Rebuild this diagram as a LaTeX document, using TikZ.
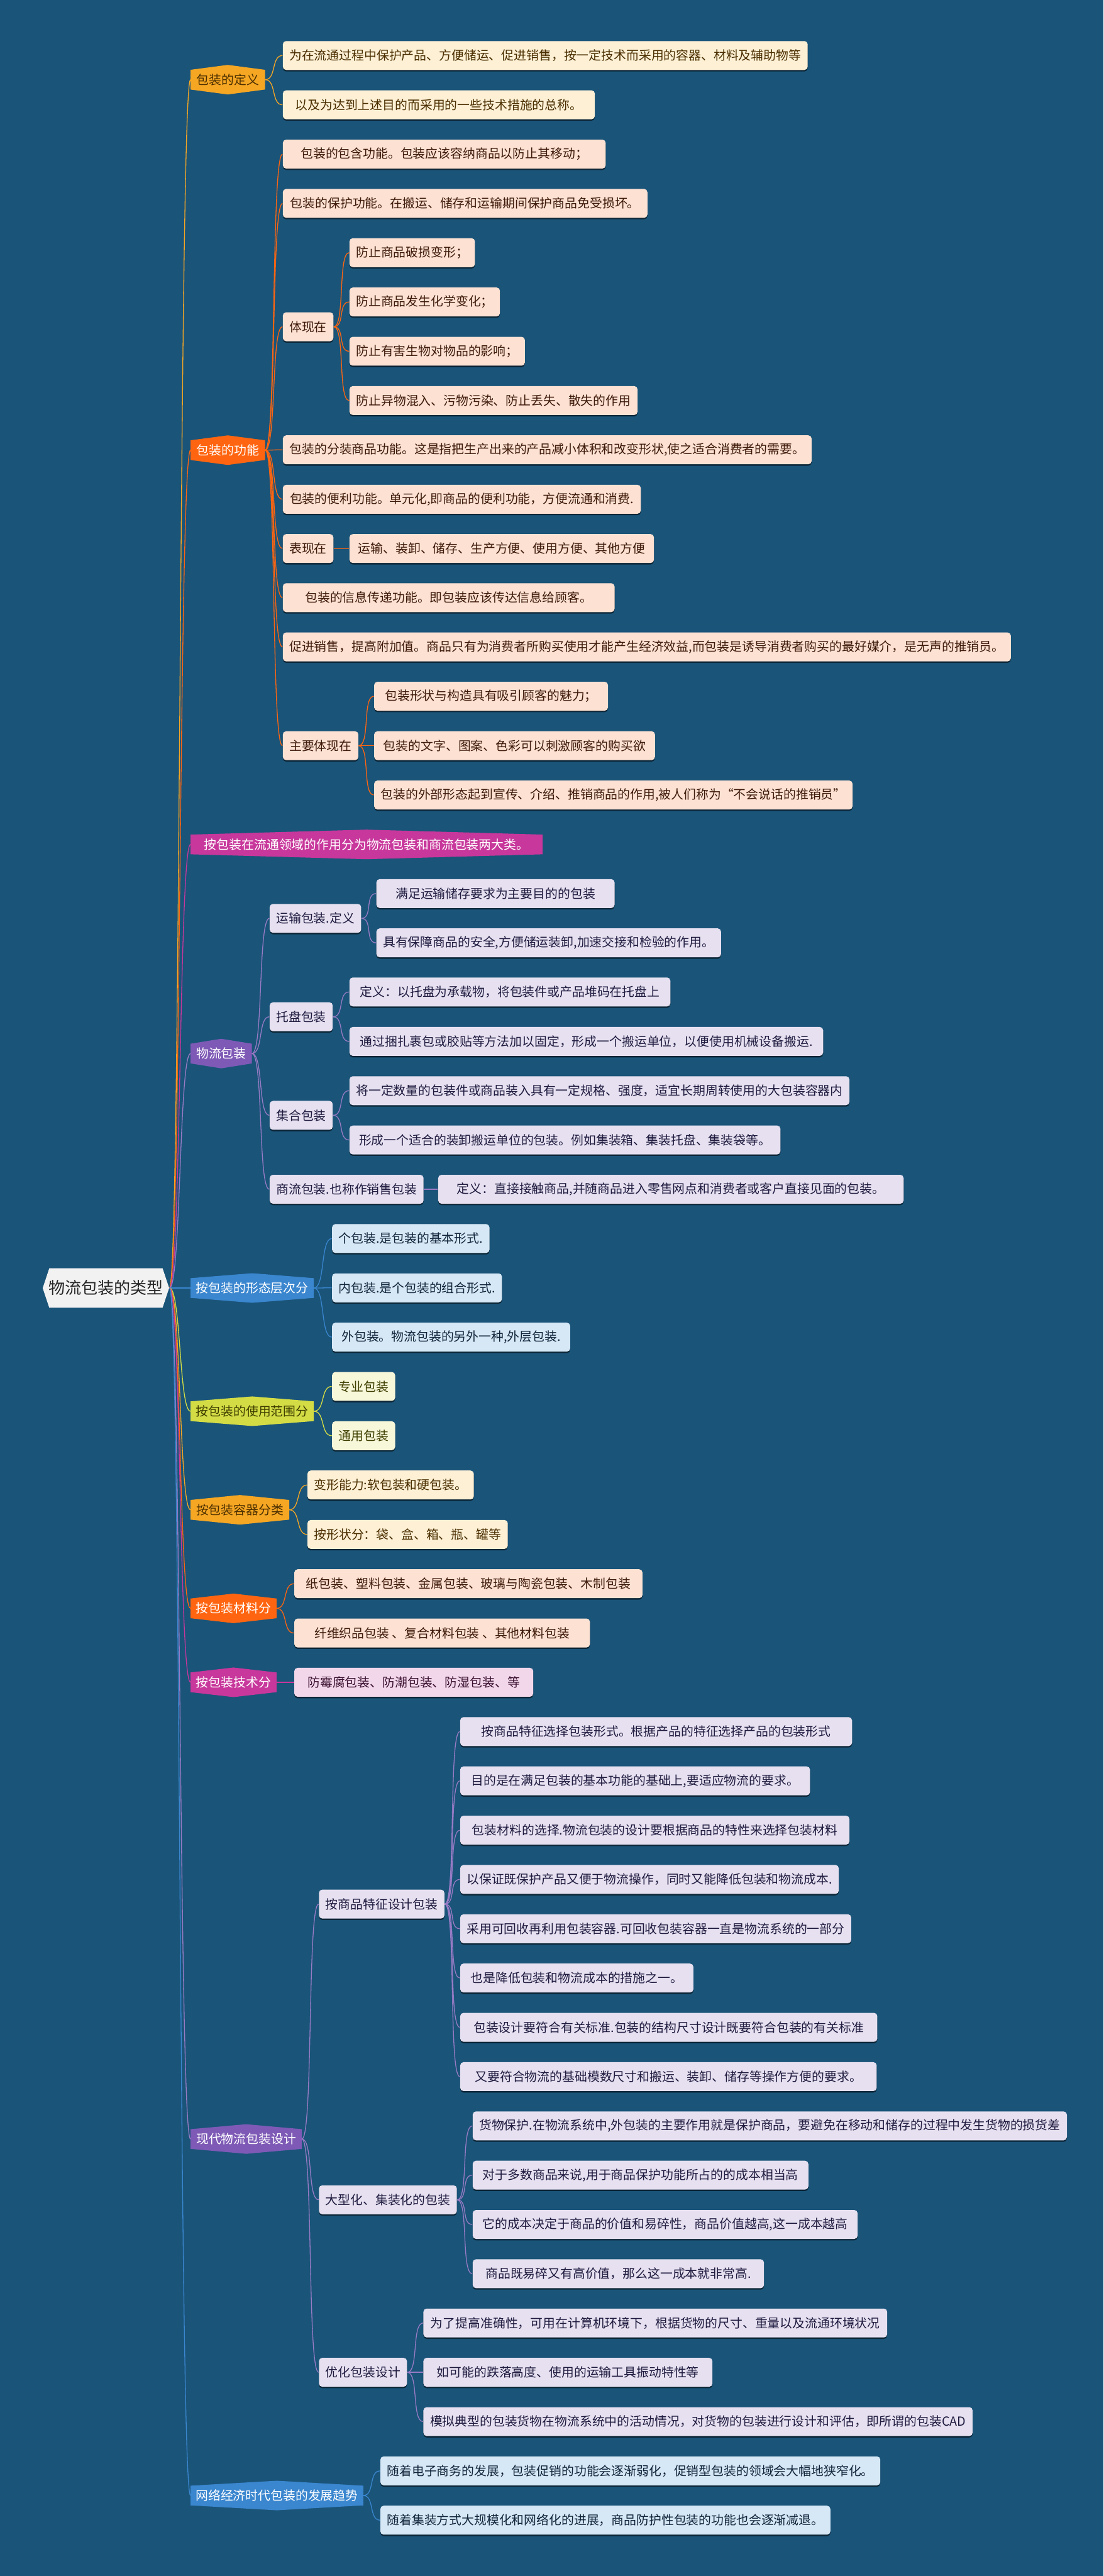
\documentclass[tikz,border=0pt]{standalone}
\usepackage{fontspec}
\newfontfamily\cjkf{Noto Sans CJK SC}
\usetikzlibrary{calc,backgrounds,shadows}
\definecolor{bg}{HTML}{1A5479}
\definecolor{cYO}{HTML}{F5A623}
\definecolor{cOR}{HTML}{FF6510}
\definecolor{cMG}{HTML}{C8379B}
\definecolor{cPU}{HTML}{7E5AB6}
\definecolor{cBL}{HTML}{3A86CF}
\definecolor{cYG}{HTML}{D3DC45}
\definecolor{fYO}{HTML}{FDF0D5}
\definecolor{fOR}{HTML}{FDE1D2}
\definecolor{fMG}{HTML}{F2D7EA}
\definecolor{fPU}{HTML}{E6E0F0}
\definecolor{fBL}{HTML}{D6E8F6}
\definecolor{fYG}{HTML}{F7F7DA}
\definecolor{tYO}{HTML}{4A2E00}
\definecolor{tOR}{HTML}{3E1A0A}
\definecolor{tMG}{HTML}{3A1030}
\definecolor{tPU}{HTML}{1F1B3F}
\definecolor{tBL}{HTML}{10243A}
\definecolor{tYG}{HTML}{3E3E00}
\definecolor{rootc}{HTML}{F2F2F2}
\tikzset{
  box/.style={rounded corners=2pt, inner xsep=4pt, inner ysep=0pt, minimum height=17.6pt,
    anchor=west, font=\cjkf\fontsize{7.6}{9}\selectfont,
    drop shadow={shadow xshift=0pt, shadow yshift=-0.9pt, opacity=0.55, fill=black}},
  bYO/.style={box, fill=fYO, text=tYO},
  bOR/.style={box, fill=fOR, text=tOR},
  bMG/.style={box, fill=fMG, text=tMG},
  bPU/.style={box, fill=fPU, text=tPU},
  bBL/.style={box, fill=fBL, text=tBL},
  bYG/.style={box, fill=fYG, text=tYG},
  hexn/.style={inner xsep=3pt, inner ysep=0pt, minimum height=17.6pt, anchor=west,
    font=\cjkf\fontsize{7.6}{9}\selectfont},
  lYO/.style={draw=cYO, line width=0.5pt},
  lOR/.style={draw=cOR, line width=0.5pt},
  lMG/.style={draw=cMG, line width=0.5pt},
  lPU/.style={draw=cPU!80!white, line width=0.5pt},
  lBL/.style={draw=cBL, line width=0.5pt},
  lYG/.style={draw=cYG, line width=0.5pt},
}
\newcommand\bx[6]{\node[#1, minimum width=#5pt] (#2) at (#3,#4) {#6};}
\newcommand\hx[7]{%
  \node[hexn, text=#6, minimum width=#4pt] (#1) at (#2,#3) {#7};
  \begin{scope}[on background layer]
    \fill[#5] ($(#1.north west)+(0,3)$) -- (#1.north) -- ($(#1.north east)+(0,3)$) --
      ($(#1.south east)+(0,-3)$) -- (#1.south) -- ($(#1.south west)+(0,-3)$) -- cycle;
  \end{scope}}
\newcommand\cn[3]{\draw[#1] (#2.east) .. controls +(7,0) and +(-7,0) .. (#3.west);}
\begin{document}
\begin{tikzpicture}[x=1pt,y=-1pt]
\useasboundingbox (0,0) rectangle (672,1568);
\begin{scope}[on background layer]
  \fill[bg] (0,0) rectangle (672,1568);
  \fill[rootc] (26,784) -- (30,772) -- (99,772) -- (103,784) -- (99,796) -- (30,796) -- cycle;
\end{scope}
\node[font=\cjkf\fontsize{10}{12}\selectfont, text=black!85, minimum width=77pt, minimum height=24pt, inner sep=0pt] (root) at (64.5,784) {物流包装的类型};

% level 1
\hx{A}{116}{48.5}{45}{cYO}{tYO}{包装的定义}
\hx{B}{116}{274}{45}{cOR}{white}{包装的功能}
\hx{C}{116}{514}{214}{cMG}{white}{按包装在流通领域的作用分为物流包装和商流包装两大类。}
\hx{D}{116}{641.3}{37}{cPU}{white}{物流包装}
\hx{E}{116}{784}{74.7}{cBL}{white}{按包装的形态层次分}
\hx{F}{116}{859}{74.7}{cYG}{tYG}{按包装的使用范围分}
\hx{G}{116}{919}{59.7}{cYO}{tYO}{按包装容器分类}
\hx{H}{116}{979}{52}{cOR}{white}{按包装材料分}
\hx{I}{116}{1024}{52}{cMG}{white}{按包装技术分}
\hx{J}{116}{1302}{67.4}{cPU}{white}{现代物流包装设计}
\hx{K}{116}{1519}{104.7}{cBL}{white}{网络经济时代包装的发展趋势}

% A
\bx{bYO}{A1}{172}{33.8}{318}{为在流通过程中保护产品、方便储运、促进销售，按一定技术而采用的容器、材料及辅助物等}
\bx{bYO}{A2}{172}{63.8}{190}{以及为达到上述目的而采用的一些技术措施的总称。}
% B
\bx{bOR}{B1}{172}{93.8}{196.6}{包装的包含功能。包装应该容纳商品以防止其移动；}
\bx{bOR}{B2}{172}{123.8}{222}{包装的保护功能。在搬运、储存和运输期间保护商品免受损坏。}
\bx{bOR}{B3}{172}{198.9}{29}{体现在}
\bx{bOR}{B31}{212.6}{153.8}{74.4}{防止商品破损变形；}
\bx{bOR}{B32}{212.6}{183.8}{89.4}{防止商品发生化学变化；}
\bx{bOR}{B33}{212.6}{213.8}{104.4}{防止有害生物对物品的影响；}
\bx{bOR}{B34}{212.6}{243.8}{175.4}{防止异物混入、污物污染、防止丢失、散失的作用}
\bx{bOR}{B4}{172}{273.8}{322}{包装的分装商品功能。这是指把生产出来的产品减小体积和改变形状,使之适合消费者的需要。}
\bx{bOR}{B5}{172}{303.9}{218}{包装的便利功能。单元化,即商品的便利功能，方便流通和消费.}
\bx{bOR}{B6}{172}{333.9}{29}{表现在}
\bx{bOR}{B61}{212.6}{333.9}{185.4}{运输、装卸、储存、生产方便、使用方便、其他方便}
\bx{bOR}{B7}{172}{363.8}{202}{包装的信息传递功能。即包装应该传达信息给顾客。}
\bx{bOR}{B8}{172}{393.8}{443}{促进销售，提高附加值。商品只有为消费者所购买使用才能产生经济效益,而包装是诱导消费者购买的最好媒介，是无声的推销员。}
\bx{bOR}{B9}{172}{453.9}{44}{主要体现在}
\bx{bOR}{B91}{227.6}{423.8}{142.4}{包装形状与构造具有吸引顾客的魅力；}
\bx{bOR}{B92}{227.6}{453.9}{171}{包装的文字、图案、色彩可以刺激顾客的购买欲}
\bx{bOR}{B93}{227.6}{483.9}{286}{包装的外部形态起到宣传、介绍、推销商品的作用,被人们称为“不会说话的推销员”}
% D
\bx{bPU}{D1}{164}{559}{54.6}{运输包装.定义}
\bx{bPU}{D11}{229}{543.9}{145}{满足运输储存要求为主要目的的包装}
\bx{bPU}{D12}{229}{573.9}{208}{具有保障商品的安全,方便储运装卸,加速交接和检验的作用。}
\bx{bPU}{D2}{164}{618.9}{37.4}{托盘包装}
\bx{bPU}{D21}{212.6}{603.8}{195.4}{定义：以托盘为承载物，将包装件或产品堆码在托盘上}
\bx{bPU}{D22}{212.6}{633.9}{288.4}{通过捆扎裹包或胶贴等方法加以固定，形成一个搬运单位，以便使用机械设备搬运.}
\bx{bPU}{D3}{164}{678.9}{37.4}{集合包装}
\bx{bPU}{D31}{212.6}{663.9}{301}{将一定数量的包装件或商品装入具有一定规格、强度，适宜长期周转使用的大包装容器内}
\bx{bPU}{D32}{212.6}{693.9}{262.4}{形成一个适合的装卸搬运单位的包装。例如集装箱、集装托盘、集装袋等。}
\bx{bPU}{D4}{164}{723.9}{92}{商流包装.也称作销售包装}
\bx{bPU}{D41}{266.6}{723.9}{283.4}{定义：直接接触商品,并随商品进入零售网点和消费者或客户直接见面的包装。}
% E
\bx{bBL}{E1}{202}{753.9}{93}{个包装.是包装的基本形式.}
\bx{bBL}{E2}{202}{783.9}{100}{内包装.是个包装的组合形式.}
\bx{bBL}{E3}{202}{813.9}{145}{外包装。物流包装的另外一种,外层包装.}
% F
\bx{bYG}{F1}{202}{843.9}{36.7}{专业包装}
\bx{bYG}{F2}{202}{873.9}{36.7}{通用包装}
% G
\bx{bYO}{G1}{187}{903.9}{98}{变形能力:软包装和硬包装。}
\bx{bYO}{G2}{187}{934}{119}{按形状分：袋、盒、箱、瓶、罐等}
% H
\bx{bOR}{H1}{179}{964}{212}{纸包装、塑料包装、金属包装、玻璃与陶瓷包装、木制包装}
\bx{bOR}{H2}{179}{994}{180}{纤维织品包装 、复合材料包装 、其他材料包装}
% I
\bx{bMG}{I1}{179}{1024}{145.5}{防霉腐包装、防潮包装、防湿包装、等}
% J
\bx{bPU}{J1}{194}{1159}{74.7}{按商品特征设计包装}
\bx{bPU}{J11}{280}{1054}{238.6}{按商品特征选择包装形式。根据产品的特征选择产品的包装形式}
\bx{bPU}{J12}{280}{1084}{213}{目的是在满足包装的基本功能的基础上,要适应物流的要求。}
\bx{bPU}{J13}{280}{1114}{237}{包装材料的选择.物流包装的设计要根据商品的特性来选择包装材料}
\bx{bPU}{J14}{280}{1144}{230}{以保证既保护产品又便于物流操作，同时又能降低包装和物流成本.}
\bx{bPU}{J15}{280}{1174}{237}{采用可回收再利用包装容器.可回收包装容器一直是物流系统的一部分}
\bx{bPU}{J16}{280}{1204}{142}{也是降低包装和物流成本的措施之一。}
\bx{bPU}{J17}{280}{1234}{254}{包装设计要符合有关标准.包装的结构尺寸设计既要符合包装的有关标准}
\bx{bPU}{J18}{280}{1264}{253.6}{又要符合物流的基础模数尺寸和搬运、装卸、储存等操作方便的要求。}
\bx{bPU}{J2}{194}{1339}{82.4}{大型化、集装化的包装}
\bx{bPU}{J21}{287.6}{1294}{358.4}{货物保护.在物流系统中,外包装的主要作用就是保护商品，要避免在移动和储存的过程中发生货物的损货差}
\bx{bPU}{J22}{287.6}{1324}{204.4}{对于多数商品来说,用于商品保护功能所占的的成本相当高}
\bx{bPU}{J23}{287.6}{1354}{234.4}{它的成本决定于商品的价值和易碎性，商品价值越高,这一成本越高}
\bx{bPU}{J24}{287.6}{1384}{177.4}{商品既易碎又有高价值，那么这一成本就非常高.}
\bx{bPU}{J3}{194}{1444}{52.4}{优化包装设计}
\bx{bPU}{J31}{257.6}{1414}{282.4}{为了提高准确性，可用在计算机环境下，根据货物的尺寸、重量以及流通环境状况}
\bx{bPU}{J32}{257.6}{1444}{176}{如可能的跌落高度、使用的运输工具振动特性等}
\bx{bPU}{J33}{257.6}{1474}{334.4}{模拟典型的包装货物在物流系统中的活动情况，对货物的包装进行设计和评估，即所谓的包装CAD}
% K
\bx{bBL}{K1}{231.4}{1504}{302.2}{随着电子商务的发展，包装促销的功能会逐渐弱化，促销型包装的领域会大幅地狭窄化。}
\bx{bBL}{K2}{231.4}{1534}{272.2}{随着集装方式大规模化和网络化的进展，商品防护性包装的功能也会逐渐减退。}

\begin{scope}[on background layer]
\cn{lYO}{root}{A}\cn{lOR}{root}{B}\cn{lMG}{root}{C}\cn{lPU}{root}{D}
\cn{lBL}{root}{E}\cn{lYG}{root}{F}\cn{lYO}{root}{G}\cn{lOR}{root}{H}
\cn{lMG}{root}{I}\cn{lPU}{root}{J}\cn{lBL}{root}{K}
\cn{lYO}{A}{A1}\cn{lYO}{A}{A2}
\cn{lOR}{B}{B1}\cn{lOR}{B}{B2}\cn{lOR}{B}{B3}\cn{lOR}{B}{B4}\cn{lOR}{B}{B5}
\cn{lOR}{B}{B6}\cn{lOR}{B}{B7}\cn{lOR}{B}{B8}\cn{lOR}{B}{B9}
\cn{lOR}{B3}{B31}\cn{lOR}{B3}{B32}\cn{lOR}{B3}{B33}\cn{lOR}{B3}{B34}
\cn{lOR}{B6}{B61}
\cn{lOR}{B9}{B91}\cn{lOR}{B9}{B92}\cn{lOR}{B9}{B93}
\cn{lPU}{D}{D1}\cn{lPU}{D}{D2}\cn{lPU}{D}{D3}\cn{lPU}{D}{D4}
\cn{lPU}{D1}{D11}\cn{lPU}{D1}{D12}\cn{lPU}{D2}{D21}\cn{lPU}{D2}{D22}
\cn{lPU}{D3}{D31}\cn{lPU}{D3}{D32}\cn{lPU}{D4}{D41}
\cn{lBL}{E}{E1}\cn{lBL}{E}{E2}\cn{lBL}{E}{E3}
\cn{lYG}{F}{F1}\cn{lYG}{F}{F2}
\cn{lYO}{G}{G1}\cn{lYO}{G}{G2}
\cn{lOR}{H}{H1}\cn{lOR}{H}{H2}
\cn{lMG}{I}{I1}
\cn{lPU}{J}{J1}\cn{lPU}{J}{J2}\cn{lPU}{J}{J3}
\cn{lPU}{J1}{J11}\cn{lPU}{J1}{J12}\cn{lPU}{J1}{J13}\cn{lPU}{J1}{J14}
\cn{lPU}{J1}{J15}\cn{lPU}{J1}{J16}\cn{lPU}{J1}{J17}\cn{lPU}{J1}{J18}
\cn{lPU}{J2}{J21}\cn{lPU}{J2}{J22}\cn{lPU}{J2}{J23}\cn{lPU}{J2}{J24}
\cn{lPU}{J3}{J31}\cn{lPU}{J3}{J32}\cn{lPU}{J3}{J33}
\cn{lBL}{K}{K1}\cn{lBL}{K}{K2}
\end{scope}
\end{tikzpicture}
\end{document}
